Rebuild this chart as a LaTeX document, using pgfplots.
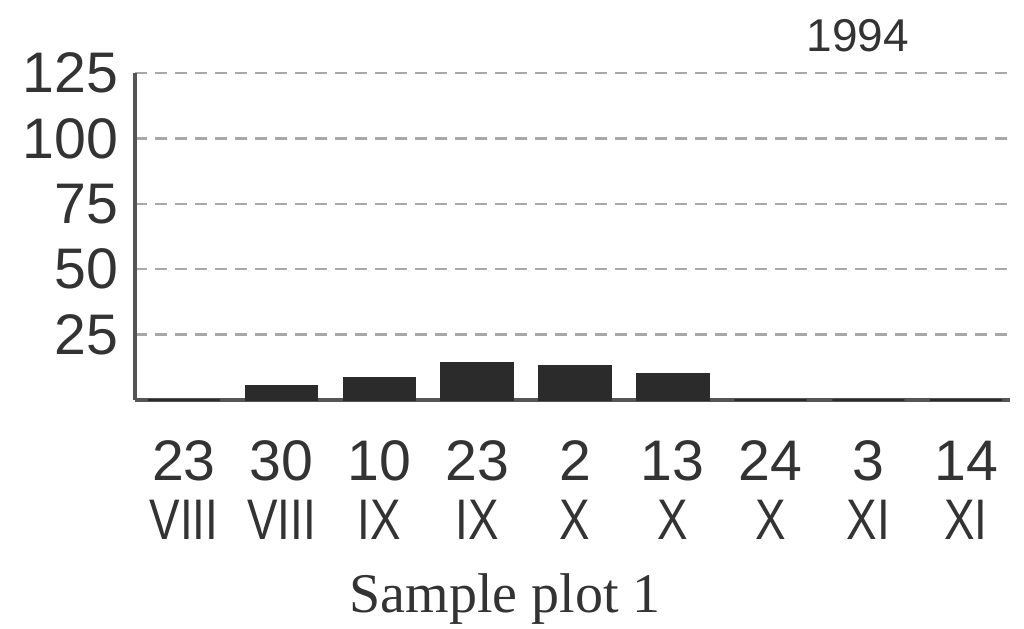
\documentclass[border=0pt]{standalone}
\usepackage{pgfplots}
\pgfplotsset{compat=1.18}
\usepackage{fontspec}
\setmainfont{Liberation Serif}
\newfontfamily\arialf{Liberation Sans}
\definecolor{ink}{HTML}{333333}
\definecolor{barc}{HTML}{2B2B2B}
\definecolor{gridc}{HTML}{A8A8A8}
\definecolor{axc}{HTML}{555555}
\newcommand{\rn}[1]{\scalebox{0.8}[1]{#1}}
\begin{document}
\begin{tikzpicture}
\useasboundingbox (-33.75pt,-57.25pt) rectangle (222.25pt,100pt);
\begin{axis}[
  at={(0,0)}, anchor=south west,
  scale only axis,
  width=218.75pt, height=81.75pt,
  xmin=-0.5, xmax=8.45,
  ymin=0, ymax=125,
  ytick={25,50,75,100,125},
  xtick={0,1,2,3,4,5,6,7,8},
  xticklabels={{23\\\rn{VIII}},{30\\\rn{VIII}},{10\\\rn{IX}},{23\\\rn{IX}},{2\\\rn{X}},{13\\\rn{X}},{24\\\rn{X}},{3\\\rn{XI}},{14\\\rn{XI}}},
  axis x line=bottom, axis y line=left,
  axis line style={-, axc, line width=1pt},
  major tick length=0pt,
  ymajorgrids,
  grid style={gridc, densely dashed, line width=0.6pt},
  /pgf/number format/assume math mode=true,
  yticklabel style={font=\arialf\fontsize{14.3pt}{15pt}\selectfont, text=ink, anchor=east, xshift=-4pt, inner sep=0pt},
  xticklabel style={font=\arialf\fontsize{14.3pt}{14.75pt}\selectfont, text=ink, align=center, anchor=north, inner sep=0pt, yshift=-10pt},
  title={\arialf 1994},
  title style={at={(axis description cs:0.826,1)}, anchor=base, yshift=-0.75pt, font=\fontsize{11.5pt}{13pt}\selectfont, text=ink, inner sep=0pt},
  xlabel={Sample plot 1},
  xlabel style={at={(axis description cs:0.423,0)}, anchor=base, yshift=-53pt, font=\fontsize{14pt}{16pt}\selectfont, text=ink, inner sep=0pt},
  clip=false,
]
\addplot[ybar, bar width=18pt, fill=barc, draw=barc, bar shift=0pt] coordinates {
 (0,0) (1,5.4) (2,8.3) (3,14.2) (4,13) (5,9.9) (6,0) (7,0) (8,0)
};
\end{axis}
\end{tikzpicture}
\end{document}
